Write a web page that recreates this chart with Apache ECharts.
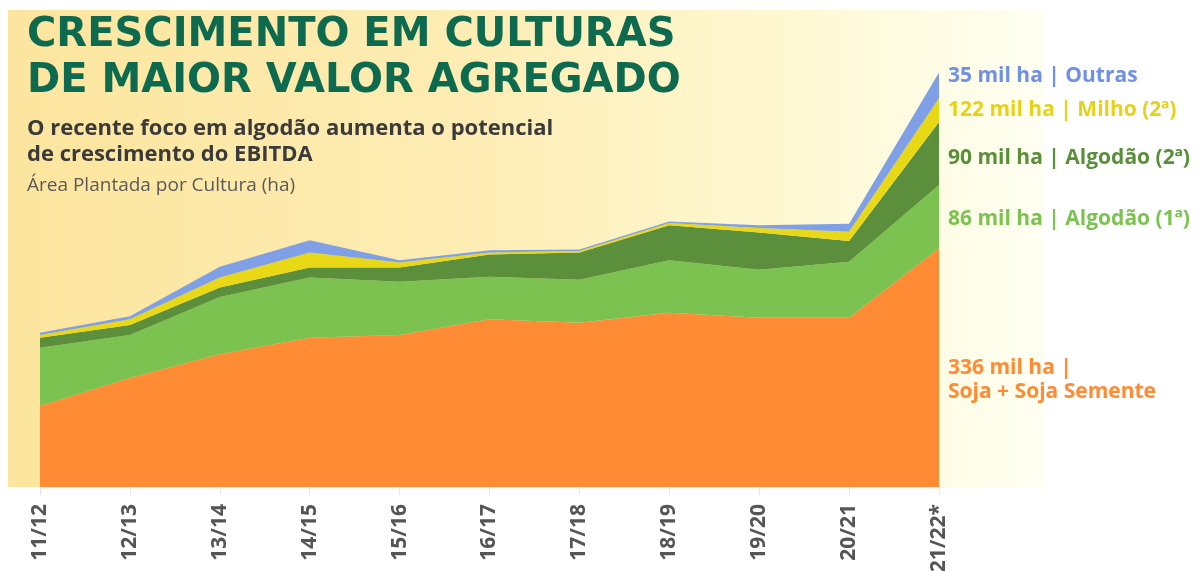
<!DOCTYPE html>
<html><head><meta charset="utf-8">
<script src="https://cdn.jsdelivr.net/npm/echarts@6/dist/echarts.min.js"></script>
<style>html,body{margin:0;padding:0;background:#fff}#c{width:1202px;height:571px}</style>
</head><body><div id="c"></div>
<script>
const categories = ['11/12','12/13','13/14','14/15','15/16','16/17','17/18','18/19','19/20','20/21','21/22*'];
// mil ha
const soja    = [113, 152, 185, 208, 212, 234, 229, 243, 236, 236, 333];
const algodao1 = [81, 60, 80, 84, 74, 59, 60, 73, 67, 78, 88];
const algodao2 = [14, 14, 13, 14, 20, 31, 38, 49, 52, 29, 88];
const milho2   = [4, 8, 14, 21, 7, 3, 2, 3, 6, 13, 33];
const outras   = [3, 4, 15, 17, 3, 3, 2, 2, 4, 11, 36];
const titleLines = ['CRESCIMENTO EM CULTURAS', 'DE MAIOR VALOR AGREGADO'];
const subtitleLines = ['O recente foco em algodão aumenta o potencial', 'de crescimento do EBITDA'];
const unitLabel = 'Área Plantada por Cultura (ha)';
const rightLabels = ['35 mil ha | Outras', '122 mil ha | Milho (2ª)', '90 mil ha | Algodão (2ª)', '86 mil ha | Algodão (1ª)', '336 mil ha |', 'Soja + Soja Semente'];

const colors = {soja:'#FF8B34', alg1:'#7CC250', alg2:'#5C8F3C', milho:'#E9D816', outras:'#7FA0E6'};
const chart = echarts.init(document.getElementById('c'), null, {renderer:'canvas'});
const FONT = '"Open Sans", "DejaVu Sans", sans-serif';
function mk(name, data, color){
  return {name, type:'line', stack:'total', data, symbol:'none', smooth:false,
    lineStyle:{width:0}, areaStyle:{color, opacity:1}, itemStyle:{color}, z:3};
}
function lbl(text, y, color){
  return {type:'text', x:948, y, style:{text, fill:color, font:'bold 21px "Open Sans", "DejaVu Sans", sans-serif', textVerticalAlign:'middle', verticalAlign:'middle'}};
}
chart.setOption({
  animation:false,
  backgroundColor:'#ffffff',
  grid:{left:40, right:263, top:71, bottom:84, containLabel:false, outerBoundsMode:'none'},
  xAxis:{type:'category', data:categories, boundaryGap:false,
    axisLine:{show:false},
    axisTick:{show:true, length:8, lineStyle:{color:'#e6e6e6'}},
    axisLabel:{rotate:90, margin:17, color:'#555555', fontFamily:FONT, fontWeight:'bold', fontSize:21}},
  yAxis:{type:'value', min:0, max:580, show:false, splitLine:{show:false}},
  series:[mk('Soja + Soja Semente', soja, colors.soja), mk('Algodão (1ª)', algodao1, colors.alg1),
          mk('Algodão (2ª)', algodao2, colors.alg2), mk('Milho (2ª)', milho2, colors.milho),
          mk('Outras', outras, colors.outras)],
  graphic:[
    {type:'rect', z:-10, silent:true, shape:{x:8, y:10, width:1035, height:477},
      style:{fill:{type:'linear', x:0, y:0, x2:1, y2:0, colorStops:[
        {offset:0, color:'#FCE59E'}, {offset:0.45, color:'#FDEDB4'}, {offset:0.75, color:'#FEF8D2'}, {offset:1, color:'#FFFFF2'}]}}},
    {type:'text', left:27, top:16, style:{text:titleLines[0], fill:'#0D6A4E', font:'bold 40px "DejaVu Sans", sans-serif'}},
    {type:'text', left:27, top:62, style:{text:titleLines[1], fill:'#0D6A4E', font:'bold 40px "DejaVu Sans", sans-serif'}},
    {type:'text', left:27, top:118, style:{text:subtitleLines[0], fill:'#3A3A3A', font:'bold 22px "Open Sans", "DejaVu Sans", sans-serif'}},
    {type:'text', left:27, top:144, style:{text:subtitleLines[1], fill:'#3A3A3A', font:'bold 22px "Open Sans", "DejaVu Sans", sans-serif'}},
    {type:'text', left:27, top:176, style:{text:unitLabel, fill:'#5A5A5A', font:'19px "Open Sans", "DejaVu Sans", sans-serif'}},
    lbl(rightLabels[0], 76, '#6E90E6'),
    lbl(rightLabels[1], 110, '#E6D21A'),
    lbl(rightLabels[2], 158, '#5A8F3A'),
    lbl(rightLabels[3], 219, '#7CC250'),
    lbl(rightLabels[4], 368, '#FF8B34'),
    lbl(rightLabels[5], 392, '#FF8B34')
  ]
});
</script></body></html>
